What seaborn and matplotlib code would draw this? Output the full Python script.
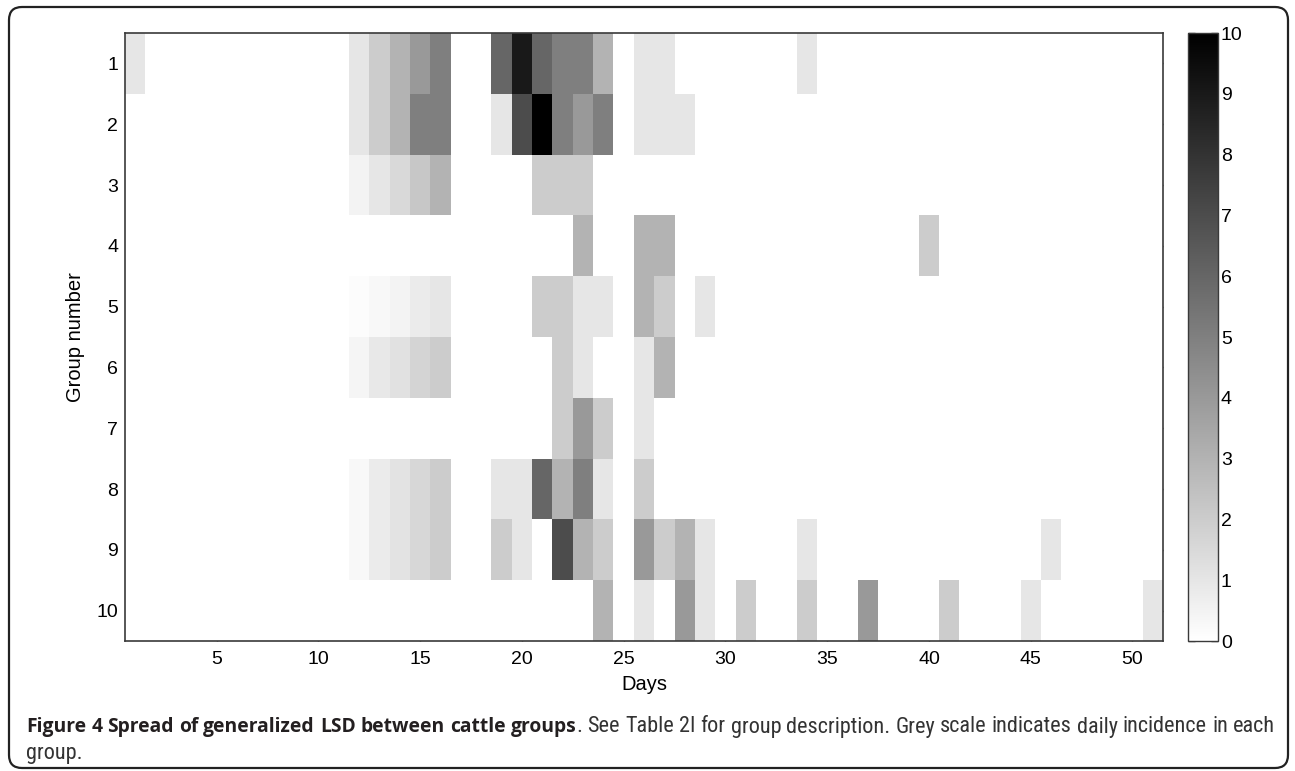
import numpy as np
import pandas as pd
import matplotlib
matplotlib.use("Agg")
import matplotlib.pyplot as plt
import seaborn as sns
from matplotlib.patches import FancyBboxPatch
from matplotlib import font_manager

# ---------------- data ----------------
days = list(range(1, 52))
groups = list(range(1, 11))

# daily incidence per group: {day: value}
group_1 = {1: 1, 12: 1, 13: 2, 14: 3, 15: 4, 16: 5, 19: 6, 20: 9, 21: 6, 22: 5, 23: 5, 24: 3,
           26: 1, 27: 1, 34: 1}
group_2 = {12: 1, 13: 2, 14: 3, 15: 5, 16: 5, 19: 1, 20: 7, 21: 10, 22: 5, 23: 4, 24: 5,
           26: 1, 27: 1, 28: 1}
group_3 = {12: 0.5, 13: 1, 14: 1.5, 15: 2.2, 16: 3, 21: 2, 22: 2, 23: 2}
group_4 = {23: 3, 26: 3, 27: 3, 40: 2}
group_5 = {12: 0.15, 13: 0.3, 14: 0.5, 15: 0.8, 16: 1, 21: 2, 22: 2, 23: 1, 24: 1,
           26: 3, 27: 2, 29: 1}
group_6 = {12: 0.4, 13: 0.9, 14: 1.2, 15: 1.7, 16: 2, 22: 2, 23: 1, 26: 1, 27: 3}
group_7 = {22: 2, 23: 4, 24: 2, 26: 1}
group_8 = {12: 0.3, 13: 0.8, 14: 1.1, 15: 1.6, 16: 2, 19: 1, 20: 1, 21: 6, 22: 3, 23: 5,
           24: 1, 26: 2}
group_9 = {12: 0.3, 13: 0.8, 14: 1.1, 15: 1.6, 16: 2, 19: 2, 20: 1, 22: 7, 23: 3, 24: 2,
           26: 4, 27: 2, 28: 3, 29: 1, 34: 1, 46: 1}
group_10 = {24: 3, 26: 1, 28: 4, 29: 1, 31: 2, 34: 2, 37: 4, 41: 2, 45: 1, 51: 1}
incidence = [group_1, group_2, group_3, group_4, group_5,
             group_6, group_7, group_8, group_9, group_10]

x_tick_days = [5, 10, 15, 20, 25, 30, 35, 40, 45, 50]
cbar_ticks = list(range(0, 11))

caption_bold = "Figure 4 Spread of generalized LSD between cattle groups"
caption_rest = ". See Table 2I for group description. Grey scale indicates daily incidence in each"
caption_line2 = "group."

# ---------------- table ----------------
mat = pd.DataFrame(0.0, index=groups, columns=days)
for g, d in zip(groups, incidence):
    for day, v in d.items():
        mat.loc[g, day] = v

# ---------------- style ----------------
sns.set_theme(style="white")
plt.rcParams["font.family"] = ["Liberation Sans", "DejaVu Sans"]

W, H = 1295, 771
fig = plt.figure(figsize=(W / 100, H / 100), dpi=100)
fig.patch.set_facecolor("white")

ax_l, ax_r, ax_t, ax_b = 125, 1163, 33, 641
ax = fig.add_axes([ax_l / W, 1 - ax_b / H, (ax_r - ax_l) / W, (ax_b - ax_t) / H])
cb_l, cb_r = 1188, 1218
cax = fig.add_axes([cb_l / W, 1 - ax_b / H, (cb_r - cb_l) / W, (ax_b - ax_t) / H])

sns.heatmap(mat, cmap="gray_r", vmin=0, vmax=10, ax=ax, cbar_ax=cax,
            cbar_kws={"ticks": cbar_ticks}, xticklabels=False, yticklabels=False,
            linewidths=0)

spine_col = "#3a3a3a"
ax.set_xticks([d - 0.5 for d in x_tick_days])
ax.set_xticklabels([str(d) for d in x_tick_days])
ax.set_yticks([i + 0.5 for i in range(len(groups))])
ax.set_yticklabels([str(g) for g in groups], rotation=0)
for s in ax.spines.values():
    s.set_visible(True)
    s.set_color(spine_col)
    s.set_linewidth(1.2)
ax.tick_params(direction="in", length=7.5, width=1.0, color=spine_col,
               top=True, right=True, bottom=True, left=True,
               labeltop=False, labelright=False, labelsize=14, labelcolor="black", pad=5)
ax.tick_params(axis="x", pad=7)

ax.set_xlabel("Days", fontsize=14.5, color="black")
ax.set_ylabel("Group number", fontsize=14.5, color="black")
ax.xaxis.set_label_coords(0.5, -0.056)
ax.yaxis.set_label_coords(-0.039, 0.5)

cb = ax.collections[0].colorbar
cb.outline.set_visible(True)
cb.outline.set_linewidth(1.0)
cb.outline.set_edgecolor(spine_col)
cax.tick_params(direction="in", length=5, width=1.0, color=spine_col,
                left=True, right=True, labelsize=14, labelcolor="black", pad=2)
cax.set_yticklabels([str(t) for t in cbar_ticks])

# ---------------- border ----------------
border = FancyBboxPatch((0.09, 0.03), 12.79, 7.61,
                        boxstyle="round,pad=0,rounding_size=0.13",
                        transform=fig.dpi_scale_trans, fill=False,
                        edgecolor="#222222", linewidth=1.6)
fig.patches.append(border)

# ---------------- caption (justified) ----------------
fig.canvas.draw()
renderer = fig.canvas.get_renderer()

available = {f.name for f in font_manager.fontManager.ttflist}
narrow = None
for cand in ["Liberation Sans Narrow", "Roboto Condensed", "DejaVu Sans Condensed",
             "Open Sans Condensed", "Open Sans"]:
    if cand in available:
        narrow = cand
        break
bold_family = "Open Sans" if "Open Sans" in available else "DejaVu Sans"


def measure(s, **kw):
    t = fig.text(0, 0, s, **kw)
    w = t.get_window_extent(renderer).width
    t.remove()
    return w


left_x, right_x = 26, 1275
bold_end = 578
line1_y = 727
line2_y = 754

# bold size so that the bold run ends where it does in the original
bold_size = 14.0
for _ in range(40):
    bw = measure(caption_bold, family=bold_family, fontweight="bold", fontsize=bold_size)
    if bw <= bold_end - left_x:
        break
    bold_size -= 0.1
bold_kw = dict(family=bold_family, fontweight="bold", fontsize=bold_size, color="#231f20")

bold_words = caption_bold.split(" ")
rest_words = caption_rest.split(" ")  # first is "."

reg_size = 17.0
for _ in range(80):
    reg_kw = dict(family=narrow, fontsize=reg_size, color="#333333")
    tokens = [(w, bold_kw, True) for w in bold_words]
    tokens.append((rest_words[0], reg_kw, False))  # "." attached without gap
    tokens += [(w, reg_kw, True) for w in rest_words[1:]]
    widths = [measure(t, **kw) for t, kw, _ in tokens]
    n_gaps = sum(1 for i, tok in enumerate(tokens) if i > 0 and tok[2])
    gap = (right_x - left_x - sum(widths)) / n_gaps
    if gap >= 5.0:
        break
    reg_size -= 0.1

x = left_x
for i, ((txt, kw, sp), w) in enumerate(zip(tokens, widths)):
    if i > 0 and sp:
        x += gap
    fig.text(x / W, 1 - line1_y / H, txt, ha="left", va="center", **kw)
    x += w

fig.text(left_x / W, 1 - line2_y / H, caption_line2, ha="left", va="center",
         family=narrow, fontsize=reg_size, color="#333333")

fig.savefig("out.png", dpi=100, facecolor="white")
